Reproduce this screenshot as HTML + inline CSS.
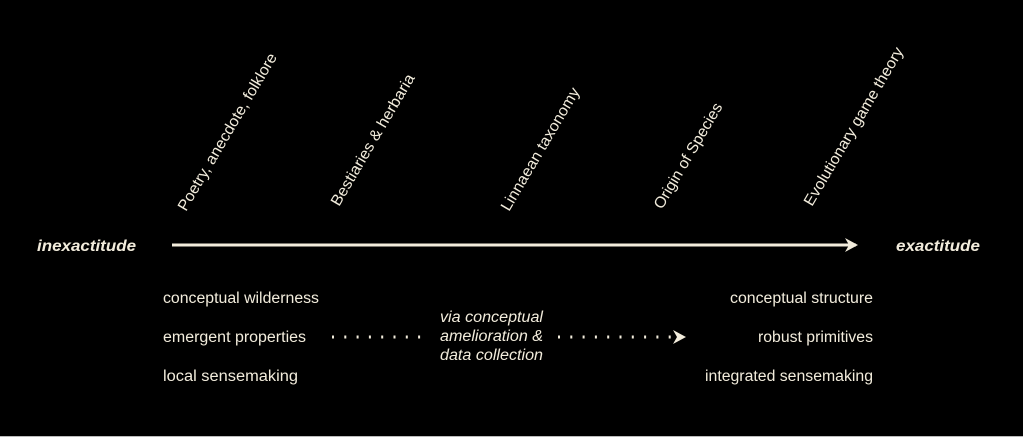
<!DOCTYPE html>
<html><head><meta charset="utf-8"><style>
html,body{margin:0;padding:0;background:#000;}
svg{display:block}
text{font-family:"Liberation Sans",sans-serif;fill:#f2ecdc;}
</style></head><body>
<svg width="1023" height="437" viewBox="0 0 1023 437" xmlns="http://www.w3.org/2000/svg">
<rect width="1023" height="437" fill="#000"/>
<rect x="0" y="436" width="1023" height="1" fill="#bbb"/>
<g font-size="15.5" lengthAdjust="spacingAndGlyphs">
<text transform="translate(186,212) rotate(-59.5)" textLength="180" lengthAdjust="spacingAndGlyphs">Poetry, anecdote, folklore</text>
<text transform="translate(339,207) rotate(-59.5)" textLength="150" lengthAdjust="spacingAndGlyphs">Bestiaries &amp; herbaria</text>
<text transform="translate(509,212) rotate(-59.5)" textLength="140" lengthAdjust="spacingAndGlyphs">Linnaean taxonomy</text>
<text transform="translate(662,210) rotate(-59.5)" textLength="120" lengthAdjust="spacingAndGlyphs">Origin of Species</text>
<text transform="translate(812,207) rotate(-59.5)" textLength="181" lengthAdjust="spacingAndGlyphs">Evolutionary game theory</text>
</g>
<text x="37" y="251" font-size="16" font-weight="bold" font-style="italic" textLength="99" lengthAdjust="spacingAndGlyphs">inexactitude</text>
<text x="896" y="251" font-size="16" font-weight="bold" font-style="italic" textLength="84" lengthAdjust="spacingAndGlyphs">exactitude</text>
<line x1="172" y1="245" x2="856" y2="245" stroke="#f2ecdc" stroke-width="3"/>
<path d="M845,238 L858,245 L845,252 L849,245 Z" fill="#f2ecdc"/>
<g font-size="15.5">
<text x="163" y="303" textLength="156" lengthAdjust="spacingAndGlyphs">conceptual wilderness</text>
<text x="163" y="342" textLength="143" lengthAdjust="spacingAndGlyphs">emergent properties</text>
<text x="163" y="381" textLength="135" lengthAdjust="spacingAndGlyphs">local sensemaking</text>
<text x="730" y="303" textLength="143" lengthAdjust="spacingAndGlyphs">conceptual structure</text>
<text x="758" y="342" textLength="115" lengthAdjust="spacingAndGlyphs">robust primitives</text>
<text x="705" y="381" textLength="168" lengthAdjust="spacingAndGlyphs">integrated sensemaking</text>
<g font-style="italic">
<text x="440" y="322" textLength="103" lengthAdjust="spacingAndGlyphs">via conceptual</text>
<text x="440" y="341" textLength="103" lengthAdjust="spacingAndGlyphs">amelioration &amp;</text>
<text x="440" y="360" textLength="103" lengthAdjust="spacingAndGlyphs">data collection</text>
</g>
</g>
<line x1="332" y1="337" x2="426" y2="337" stroke="#f2ecdc" stroke-width="3" stroke-dasharray="2,10.3"/>
<line x1="558" y1="337" x2="674" y2="337" stroke="#f2ecdc" stroke-width="3" stroke-dasharray="2,10.3"/>
<path d="M673,330 L686,337 L673,344 L677,337 Z" fill="#f2ecdc"/>
</svg>
</body></html>
